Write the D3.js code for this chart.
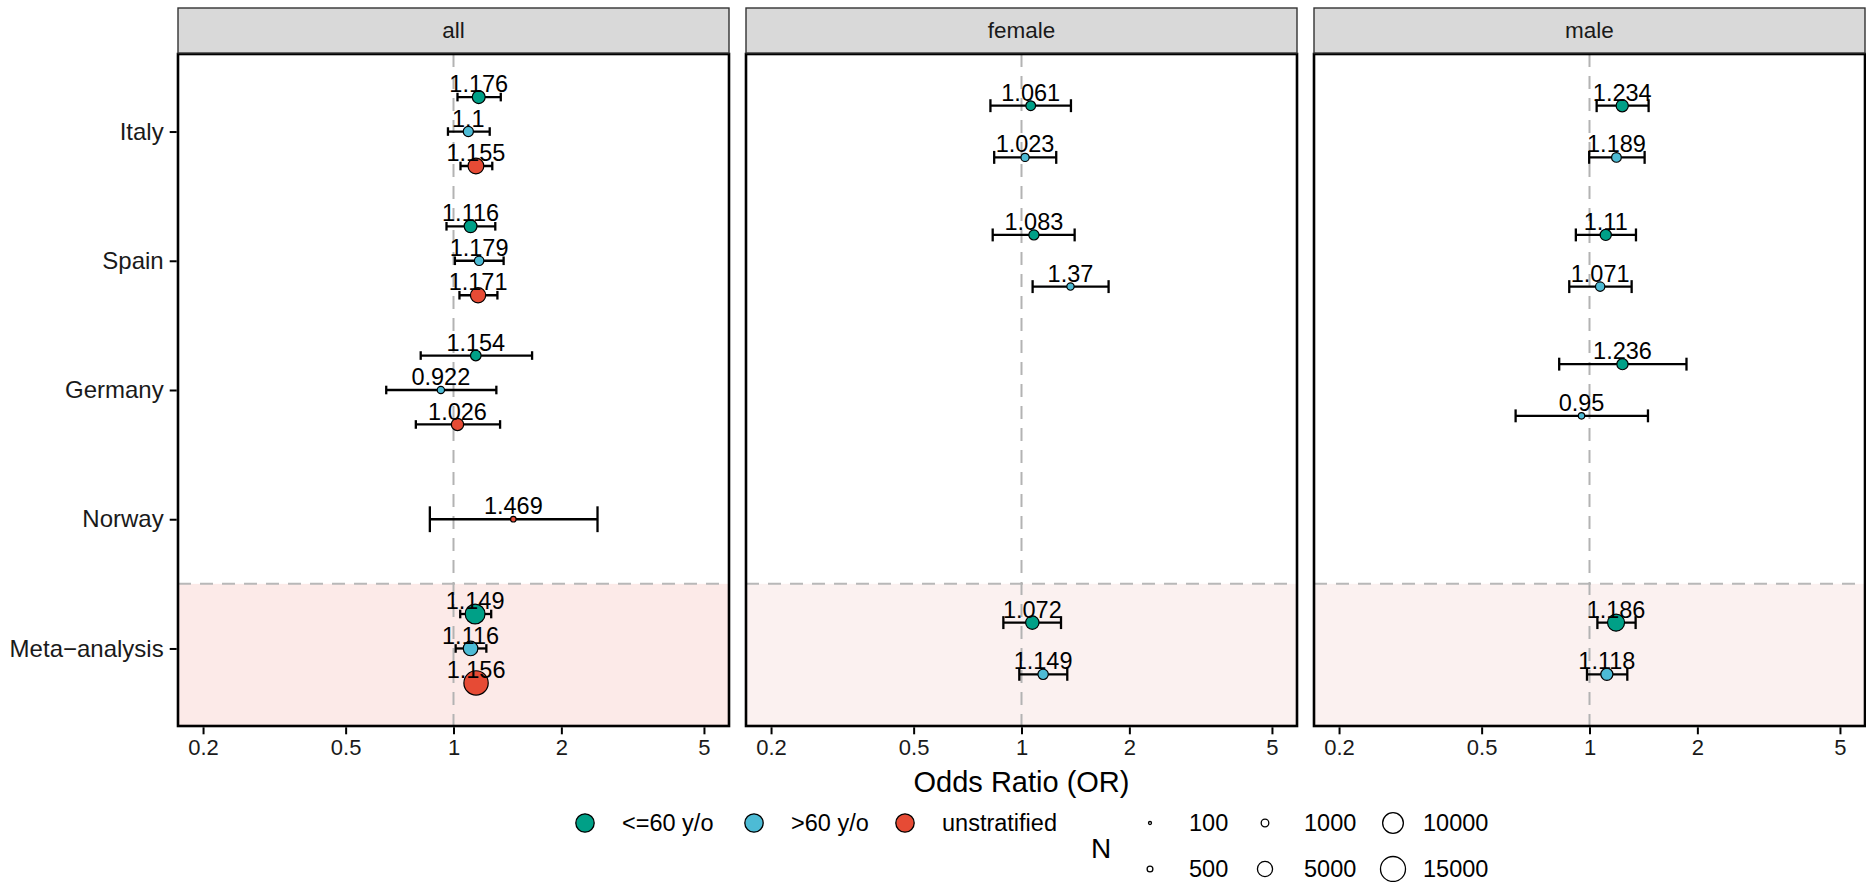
<!DOCTYPE html>
<html>
<head>
<meta charset="utf-8">
<script src="https://cdn.jsdelivr.net/npm/d3@7/dist/d3.min.js"></script>
<style>
  html, body { margin: 0; padding: 0; background: #ffffff; }
  svg { display: block; font-family: "Liberation Sans", Arial, Helvetica, sans-serif; }
</style>
</head>
<body>
<svg id="chart" width="1866" height="882"></svg>
<script>
// ---------------- data ----------------
const panels = ["all", "female", "male"];
const countries = ["Italy", "Spain", "Germany", "Norway", "Meta\u2212analysis"];
const groups = ["<=60 y/o", ">60 y/o", "unstratified"];
const groupColors = ["#00A087", "#4DBBD5", "#E64B35"];
const xTickValues = [0.2, 0.5, 1, 2, 5];
const xLimits = [0.2, 5];
const sizeBreaks = [100, 500, 1000, 5000, 10000, 15000];

const rowPanel = [
  "all","all","all","all","all","all","all","all","all","all","all","all","all",
  "female","female","female","female","female","female",
  "male","male","male","male","male","male","male","male"
];
const rowCountry = [
  "Italy","Italy","Italy","Spain","Spain","Spain","Germany","Germany","Germany","Norway",
  "Meta\u2212analysis","Meta\u2212analysis","Meta\u2212analysis",
  "Italy","Italy","Spain","Spain","Meta\u2212analysis","Meta\u2212analysis",
  "Italy","Italy","Spain","Spain","Germany","Germany","Meta\u2212analysis","Meta\u2212analysis"
];
const rowGroup = [
  "<=60 y/o",">60 y/o","unstratified","<=60 y/o",">60 y/o","unstratified","<=60 y/o",">60 y/o","unstratified","unstratified",
  "<=60 y/o",">60 y/o","unstratified",
  "<=60 y/o",">60 y/o","<=60 y/o",">60 y/o","<=60 y/o",">60 y/o",
  "<=60 y/o",">60 y/o","<=60 y/o",">60 y/o","<=60 y/o",">60 y/o","<=60 y/o",">60 y/o"
];
const orValues = [
  1.176, 1.1, 1.155, 1.116, 1.179, 1.171, 1.154, 0.922, 1.026, 1.469, 1.149, 1.116, 1.156,
  1.061, 1.023, 1.083, 1.37, 1.072, 1.149,
  1.234, 1.189, 1.11, 1.071, 1.236, 0.95, 1.186, 1.118
];
const ciLower = [
  1.026, 0.965, 1.046, 0.956, 1.009, 1.039, 0.81, 0.649, 0.785, 0.859, 1.044, 1.014, 1.09,
  0.819, 0.839, 0.831, 1.074, 0.89, 0.986,
  1.047, 0.998, 0.916, 0.878, 0.823, 0.622, 1.052, 0.984
];
const ciUpper = [
  1.355, 1.262, 1.283, 1.308, 1.38, 1.326, 1.657, 1.317, 1.349, 2.523, 1.274, 1.235, 1.226,
  1.374, 1.25, 1.407, 1.75, 1.289, 1.342,
  1.462, 1.425, 1.348, 1.311, 1.865, 1.456, 1.345, 1.275
];
const sampleN = [
  3500, 2000, 5500, 3400, 1700, 5100, 2200, 900, 3100, 450, 9100, 4600, 14150,
  1800, 1200, 2000, 900, 3800, 2100,
  3060, 1800, 2500, 1650, 2500, 650, 6500, 3000
];

// ---------------- layout ----------------
const svg = d3.select("#chart");
const panelW = 551, panelGap = 17, panelX0 = 178;
const stripTop = 8, stripBottom = 53, panelTop = 54, panelBottom = 726;
const bandFill = {all: "#FCEAE8", female: "#FBF1F0", male: "#FBF1F0"};

const rows = orValues.map((v, i) => ({
  panel: rowPanel[i], country: rowCountry[i], group: rowGroup[i],
  or: v, lo: ciLower[i], hi: ciUpper[i], n: sampleN[i]
}));

// x: log scale with 5% expansion on the log axis
const lg0 = Math.log10(xLimits[0]), lg1 = Math.log10(xLimits[1]);
const ex = (lg1 - lg0) * 0.05;
const x = d3.scaleLog().domain([Math.pow(10, lg0 - ex), Math.pow(10, lg1 + ex)]).range([0, panelW]);
const y = d3.scalePoint().domain(countries).range([panelTop, panelBottom]).padding(0.6);
const step = y.step();

// size: area-style scale
const nMin = 60;
const rLin = d3.scaleLinear().domain([0, Math.sqrt(15000 - nMin)]).range([1.5, 13.1]);
const rScale = n => rLin(Math.sqrt(Math.max(0, n - nMin)));
const color = d3.scaleOrdinal().domain(groups).range(groupColors);

const dodgeW = 0.8, errW = 0.2;

panels.forEach((p, pi) => {
  const g = svg.append("g").attr("transform", `translate(${panelX0 + pi * (panelW + panelGap)},0)`);
  const yMid = (y("Norway") + y("Meta\u2212analysis")) / 2;

  g.append("rect").attr("x", 0).attr("y", panelTop).attr("width", panelW)
    .attr("height", panelBottom - panelTop).attr("fill", "#ffffff");
  g.append("rect").attr("x", 0).attr("y", yMid).attr("width", panelW)
    .attr("height", panelBottom - yMid).attr("fill", bandFill[p]);
  g.append("line").attr("x1", 0).attr("x2", panelW).attr("y1", yMid).attr("y2", yMid)
    .attr("stroke", "#B8B8B8").attr("stroke-width", 2).attr("stroke-dasharray", "13,9");
  g.append("line").attr("x1", x(1)).attr("x2", x(1)).attr("y1", panelTop).attr("y2", panelBottom)
    .attr("stroke", "#B3B3B3").attr("stroke-width", 2).attr("stroke-dasharray", "13,9");

  const pr = rows.filter(r => r.panel === p);
  pr.forEach(r => {
    const present = groups.filter(gr => pr.some(o => o.country === r.country && o.group === gr));
    const k = present.length, idx = present.indexOf(r.group);
    r.cy = y(r.country) + (idx - (k - 1) / 2) * (dodgeW / k) * step;
    r.cap = (errW / k) * step / 2;
  });

  const eb = g.append("g");
  pr.forEach(r => {
    eb.append("line").attr("x1", x(r.lo)).attr("x2", x(r.hi)).attr("y1", r.cy).attr("y2", r.cy)
      .attr("stroke", "#000").attr("stroke-width", 2.3);
    [r.lo, r.hi].forEach(v => {
      eb.append("line").attr("x1", x(v)).attr("x2", x(v)).attr("y1", r.cy - r.cap).attr("y2", r.cy + r.cap)
        .attr("stroke", "#000").attr("stroke-width", 2.3);
    });
  });

  g.append("g").selectAll("circle").data(pr).join("circle")
    .attr("cx", d => x(d.or)).attr("cy", d => d.cy).attr("r", d => rScale(d.n) - 0.6)
    .attr("fill", d => color(d.group)).attr("stroke", "#000").attr("stroke-width", 1.2);

  g.append("g").selectAll("text").data(pr).join("text")
    .attr("x", d => x(d.or)).attr("y", d => d.cy - 0.1 * step)
    .attr("text-anchor", "middle").attr("dominant-baseline", "central")
    .attr("font-size", 23.5).attr("fill", "#000").text(d => String(d.or));

  g.append("rect").attr("x", 0).attr("y", panelTop).attr("width", panelW)
    .attr("height", panelBottom - panelTop).attr("fill", "none")
    .attr("stroke", "#000").attr("stroke-width", 2.6);

  g.append("rect").attr("x", 0).attr("y", stripTop).attr("width", panelW)
    .attr("height", stripBottom - stripTop).attr("fill", "#D9D9D9")
    .attr("stroke", "#333333").attr("stroke-width", 1.4);
  g.append("text").attr("x", panelW / 2).attr("y", (stripTop + stripBottom) / 2)
    .attr("text-anchor", "middle").attr("dominant-baseline", "central")
    .attr("font-size", 22.5).attr("fill", "#1A1A1A").text(p);

  const xa = g.append("g").attr("transform", `translate(0,${panelBottom + 1.3})`)
    .call(d3.axisBottom(x).tickValues(xTickValues).tickFormat(d => String(d)).tickSize(7).tickPadding(5));
  xa.select(".domain").remove();
  xa.selectAll(".tick line").attr("stroke", "#000").attr("stroke-width", 2);
  xa.selectAll(".tick text").attr("font-size", 22).attr("fill", "#1A1A1A")
    .attr("font-family", "Liberation Sans, Arial, sans-serif");

  if (pi === 0) {
    const ya = g.append("g").attr("transform", `translate(-1.3,0)`)
      .call(d3.axisLeft(y).tickSize(7).tickPadding(6));
    ya.select(".domain").remove();
    ya.selectAll(".tick line").attr("stroke", "#000").attr("stroke-width", 2);
    ya.selectAll(".tick text").attr("font-size", 24).attr("fill", "#1A1A1A")
      .attr("font-family", "Liberation Sans, Arial, sans-serif");
  }
});

// axis title
svg.append("text").attr("x", panelX0 + (3 * panelW + 2 * panelGap) / 2).attr("y", 782)
  .attr("text-anchor", "middle").attr("dominant-baseline", "central")
  .attr("font-size", 29).attr("fill", "#000").text("Odds Ratio (OR)");

// colour legend
const legY1 = 823, legY2 = 869;
const colLegX = [585, 754, 905];
groups.forEach((gr, i) => {
  svg.append("circle").attr("cx", colLegX[i]).attr("cy", legY1).attr("r", 9.2)
    .attr("fill", color(gr)).attr("stroke", "#000").attr("stroke-width", 1.3);
  svg.append("text").attr("x", colLegX[i] + 37).attr("y", legY1)
    .attr("dominant-baseline", "central").attr("font-size", 23.5).attr("fill", "#000").text(gr);
});

// size legend
svg.append("text").attr("x", 1101).attr("y", 848).attr("text-anchor", "middle")
  .attr("dominant-baseline", "central").attr("font-size", 28).attr("fill", "#000").text("N");
const sizeColX = [1150, 1265, 1393];
sizeBreaks.forEach((b, i) => {
  const col = Math.floor(i / 2), row = i % 2;
  const cy = row === 0 ? legY1 : legY2;
  svg.append("circle").attr("cx", sizeColX[col]).attr("cy", cy).attr("r", rScale(b) - 0.6)
    .attr("fill", "none").attr("stroke", "#000").attr("stroke-width", 1.3);
  svg.append("text").attr("x", sizeColX[col] + 39 - (col === 2 ? 9 : 0)).attr("y", cy)
    .attr("dominant-baseline", "central").attr("font-size", 23.5).attr("fill", "#000").text(String(b));
});
</script>
</body>
</html>
